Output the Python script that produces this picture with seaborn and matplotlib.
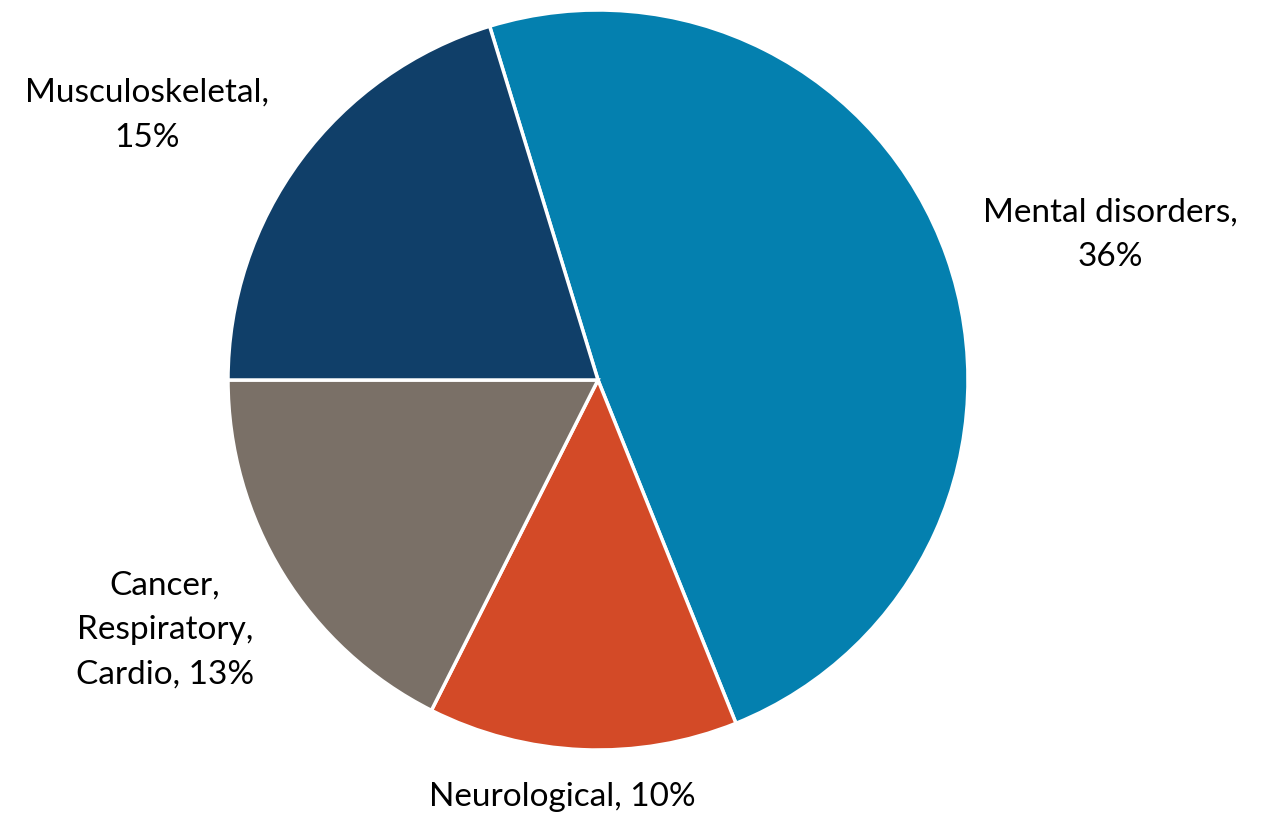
import matplotlib
matplotlib.use("Agg")
import matplotlib.pyplot as plt
import seaborn as sns

categories = ["Mental disorders", "Neurological", "Cancer, Respiratory, Cardio", "Musculoskeletal"]
values = [36, 10, 13, 15]
labels = ["Mental disorders,\n36%", "Neurological, 10%", "Cancer,\nRespiratory,\nCardio, 13%", "Musculoskeletal,\n15%"]
colors = ["#0480AF", "#D34A27", "#7A7067", "#103F69"]

sns.set_theme(style="white")
plt.rcParams['font.family'] = ['Lato', 'DejaVu Sans']

fig = plt.figure(figsize=(12.68, 8.14), dpi=100)
ax = fig.add_axes([228 / 1268, 64 / 814, 740 / 1268, 740 / 814])

start = 180 + sum(values[:3]) / sum(values) * 360
wedges, _ = ax.pie(values, colors=colors, startangle=start, counterclock=False,
                   wedgeprops=dict(edgecolor="white", linewidth=2.5))
ax.set_xlim(-1, 1)
ax.set_ylim(-1, 1)

label_pos = [(1.384, 0.392), (-0.097, -1.127), (-1.170, -0.676), (-1.219, 0.716)]
for lab, (x, y) in zip(labels, label_pos):
    ax.text(x, y, lab, ha="center", va="center", fontsize=24, color="#000000",
            linespacing=1.62, clip_on=False)

fig.savefig("out.png", dpi=100, facecolor="white")
